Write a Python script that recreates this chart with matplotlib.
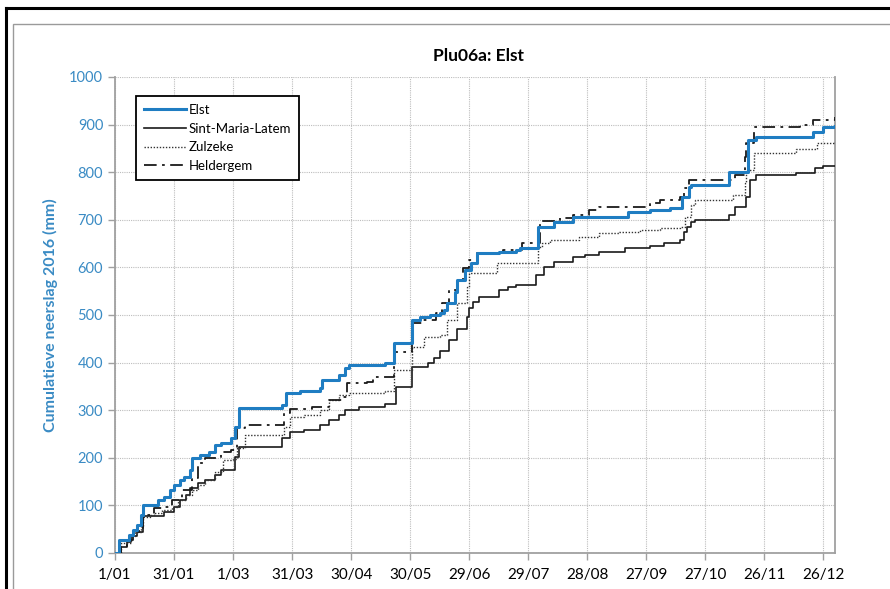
import numpy as np
import matplotlib
matplotlib.use('Agg')
import matplotlib.pyplot as plt
from matplotlib.lines import Line2D
from matplotlib.patches import Rectangle

plt.rcParams['font.family'] = ['Lato', 'DejaVu Sans']

# dagnummer (0 = 1 januari 2016) en cumulatieve neerslag (mm) per station
elst_dag = [0, 2, 7, 9, 11, 13, 14, 22, 25, 28, 30, 33, 35, 38, 39, 43, 48, 51, 54, 59,
            61, 63, 85, 87, 94, 104, 105, 114, 117, 119, 137, 142, 151, 155, 160, 165,
            167, 169, 173, 174, 178, 181, 184, 195, 204, 206, 215, 223, 233, 261, 272,
            282, 288, 292, 293, 312, 322, 326, 355, 360, 366]
elst_mm = [0, 27, 38, 48, 59, 80, 101, 111, 118, 132, 143, 153, 160, 174, 199, 206, 212,
           227, 231, 241, 265, 304, 311, 336, 340, 346, 363, 374, 389, 395, 399, 441, 490,
           495, 500, 504, 510, 525, 548, 573, 595, 609, 630, 633, 636, 640, 685, 695, 706,
           716, 720, 724, 748, 769, 773, 800, 868, 874, 885, 895, 897]

sml_dag = [0, 3, 6, 8, 11, 14, 25, 30, 33, 36, 38, 42, 46, 51, 54, 61, 63, 85, 89, 96,
           104, 109, 114, 117, 124, 137, 143, 151, 159, 162, 165, 170, 174, 179, 180, 182,
           185, 195, 200, 204, 214, 218, 223, 233, 239, 246, 259, 272, 279, 287, 289, 291,
           293, 295, 312, 315, 321, 323, 326, 346, 356, 360, 366]
sml_mm = [0, 12, 23, 35, 45, 78, 87, 97, 111, 122, 136, 147, 153, 164, 174, 202, 222, 242,
          254, 258, 269, 279, 290, 300, 307, 312, 349, 391, 399, 410, 425, 447, 470, 496,
          515, 527, 538, 553, 559, 562, 585, 600, 611, 622, 626, 632, 640, 645, 651, 658,
          674, 685, 695, 700, 710, 727, 748, 784, 794, 798, 809, 813, 814]

zul_dag = [0, 3, 8, 10, 13, 14, 18, 20, 24, 29, 32, 36, 39, 42, 46, 51, 55, 60, 62, 66,
           86, 89, 96, 104, 109, 114, 119, 137, 142, 151, 157, 165, 169, 174, 179, 180,
           194, 215, 217, 221, 236, 246, 256, 267, 277, 287, 290, 293, 295, 314, 320, 321,
           325, 346, 357, 366]
zul_mm = [0, 20, 35, 45, 55, 75, 80, 84, 90, 97, 111, 122, 132, 143, 153, 170, 195, 197,
          220, 248, 265, 286, 290, 300, 321, 332, 336, 341, 384, 433, 454, 458, 489, 525,
          559, 588, 609, 643, 651, 658, 664, 672, 675, 678, 682, 685, 706, 731, 741, 752,
          777, 805, 840, 849, 861, 864]

hel_dag = [0, 3, 6, 9, 12, 14, 20, 25, 29, 34, 39, 42, 46, 54, 59, 62, 66, 86, 89, 100,
           109, 116, 118, 128, 131, 142, 151, 156, 163, 166, 170, 174, 177, 180, 184, 197,
           207, 216, 226, 233, 241, 246, 272, 277, 287, 289, 292, 315, 320, 321, 325, 348,
           355, 366]
hel_mm = [0, 15, 28, 40, 52, 80, 95, 97, 111, 132, 157, 189, 199, 212, 216, 262, 269, 294,
          303, 307, 321, 328, 357, 359, 370, 422, 483, 489, 504, 525, 553, 569, 599, 615,
          630, 636, 651, 697, 703, 710, 720, 727, 735, 741, 748, 767, 784, 794, 832, 861,
          894, 899, 910, 915]

tick_dagen = [0, 30, 60, 90, 120, 150, 180, 210, 240, 270, 300, 330, 360]
tick_labels = ['1/01', '31/01', '1/03', '31/03', '30/04', '30/05', '29/06', '29/07',
               '28/08', '27/09', '27/10', '26/11', '26/12']

blauw = '#1f7dc2'
tekstblauw = '#3a8bc4'

fig = plt.figure(figsize=(8.9, 5.89), dpi=100)
ax = fig.add_axes([115 / 890, 1 - 553 / 589, 720 / 890, 476 / 589])

ax.step(sml_dag, sml_mm, where='post', color='#1a1a1a', lw=1.2, zorder=3)
ax.step(zul_dag, zul_mm, where='post', color='#333333', lw=1.0, ls=(0, (1, 1.2)), zorder=3)
ax.step(hel_dag, hel_mm, where='post', color='#1a1a1a', lw=1.3, ls=(0, (7, 3, 1.5, 3)), zorder=3)
ax.step(elst_dag, elst_mm, where='post', color=blauw, lw=2.2, zorder=4)

ax.set_xlim(0, 366)
ax.set_ylim(0, 1000)
ax.set_yticks(np.arange(0, 1001, 100))
ax.set_xticks(tick_dagen)
ax.set_xticklabels(tick_labels)
ax.tick_params(axis='y', colors='#a0a0a0', labelcolor=tekstblauw, labelsize=10.5, length=5, width=1)
ax.tick_params(axis='x', colors='#a0a0a0', labelcolor='black', labelsize=11, length=5, width=1, pad=6)
ax.grid(True, color='#bdbdbd', ls=(0, (1, 1)), lw=0.8)
ax.set_axisbelow(True)

for side in ['left', 'bottom', 'right']:
    ax.spines[side].set_color('#a0a0a0')
    ax.spines[side].set_linewidth(1.3)
ax.spines['top'].set_visible(False)

ax.set_ylabel('Cumulatieve neerslag 2016 (mm)', color=tekstblauw, fontsize=11.5,
              fontweight='bold', labelpad=8)
fig.text(0.5 * (115 + 835) / 890 + 0.004, 1 - 56 / 589, 'Plu06a: Elst', ha='center', va='center',
         fontsize=12.5, fontweight='bold')

# legende: Elst bovenaan
handles = [
    Line2D([], [], color=blauw, lw=2.2),
    Line2D([], [], color='#1a1a1a', lw=1.2),
    Line2D([], [], color='#333333', lw=1.0, ls=(0, (1, 1.2))),
    Line2D([], [], color='#1a1a1a', lw=1.3, ls=(0, (7, 3, 1.5, 3))),
]
leg = ax.legend(handles, ['Elst', 'Sint-Maria-Latem', 'Zulzeke', 'Heldergem'],
                loc='upper left', bbox_to_anchor=(0.029, 0.96), borderaxespad=0,
                fancybox=False, edgecolor='black', framealpha=1, fontsize=9.5,
                handlelength=3.2, handletextpad=0.2, borderpad=0.6, labelspacing=0.5)
leg.get_frame().set_linewidth(1.3)

# kaders rond de grafiek
fig.patches.append(Rectangle((13 / 890, -0.1), 1.0, 1 - 24 / 589 + 0.1, transform=fig.transFigure,
                             fill=False, edgecolor='#9a9a9a', lw=1.0, zorder=0))
fig.lines.append(Line2D([5.5 / 890, 5.5 / 890], [0, 1 - 8 / 589], transform=fig.transFigure,
                        color='black', lw=2.2))
fig.lines.append(Line2D([5.5 / 890, 1], [1 - 8 / 589, 1 - 8 / 589], transform=fig.transFigure,
                        color='black', lw=2.2))

fig.savefig('out.png', dpi=100)
